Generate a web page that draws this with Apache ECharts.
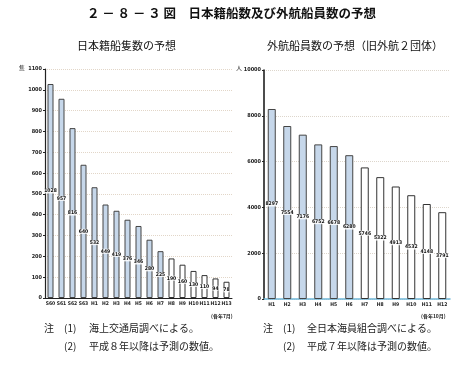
<!DOCTYPE html>
<html><head><meta charset="utf-8">
<script src="https://cdn.jsdelivr.net/npm/echarts@6/dist/echarts.min.js"></script>
<style>html,body{margin:0;padding:0;background:#fff}#c{width:463px;height:379px}</style>
</head><body><div id="c"></div>
<script>
// Left chart: 日本籍船隻数
var shipCats = ['S60','S61','S62','S63','H1','H2','H3','H4','H5','H6','H7','H8','H9','H10','H11','H12','H13'];
var shipVals = [1028, 957, 816, 640, 532, 449, 419, 376, 346, 280, 225, 190, 160, 130, 110, 94, 78];
var shipForecastFrom = 'H8';
var shipTicks = [0,100,200,300,400,500,600,700,800,900,1000,1100];
// Right chart: 外航船員数
var crewCats = ['H1','H2','H3','H4','H5','H6','H7','H8','H9','H10','H11','H12'];
var crewVals = [8297, 7554, 7176, 6752, 6678, 6280, 5746, 5322, 4913, 4532, 4148, 3791];
var crewForecastFrom = 'H7';
var crewTicks = [0,2000,4000,6000,8000,10000];

var FONT = '"Noto Sans CJK JP","Noto Sans CJK SC",sans-serif';
var FILL = '#c6d7ea';

function barData(cats, vals, from) {
  var fi = cats.indexOf(from);
  return vals.map(function (v, i) {
    var fc = i >= fi;
    return { value: v, itemStyle: { color: fc ? '#ffffff' : FILL, borderColor: fc ? '#333' : '#444', borderWidth: 1 } };
  });
}

var chart = echarts.init(document.getElementById('c'));
var axisLbl = { fontSize: 5.5, color: '#222', fontFamily: '"DejaVu Sans Condensed","DejaVu Sans"', fontWeight: 'bold', margin: 3,
  formatter: function (v) { return String(v); } };
var catLbl = { interval: 0, fontSize: 5, color: '#222', fontFamily: '"DejaVu Sans Condensed","DejaVu Sans"', fontWeight: 'bold', margin: 3 };
var noteFont = '10px ' + FONT;
chart.setOption({
  backgroundColor: '#fff',
  animation: false,
  title: [
    { text: '２ － ８ － ３ 図　日本籍船数及び外航船員数の予想', left: 'center', top: 2,
      textStyle: { fontSize: 12.5, fontWeight: 'bold', fontFamily: FONT, color: '#111' } },
    { text: '日本籍船隻数の予想', left: 72, top: 35,
      textStyle: { fontSize: 11, fontWeight: 'normal', fontFamily: FONT, color: '#111' } },
    { text: '外航船員数の予想（旧外航２団体）', left: 262, top: 35,
      textStyle: { fontSize: 11, fontWeight: 'normal', fontFamily: FONT, color: '#111' } }
  ],
  graphic: [
    { type: 'text', left: 19, top: 65, style: { text: '隻', font: '6px ' + FONT, fill: '#222' } },
    { type: 'text', left: 236, top: 65, style: { text: '人', font: '6px ' + FONT, fill: '#222' } },
    { type: 'text', left: 211, top: 314, style: { text: '(各年7月)', font: 'bold 5px ' + FONT, fill: '#222' } },
    { type: 'text', left: 421, top: 314, style: { text: '(各年10月)', font: 'bold 5px ' + FONT, fill: '#222' } },
    { type: 'text', left: 44, top: 323, style: { text: '注', font: noteFont, fill: '#222' } },
    { type: 'text', left: 64, top: 323, style: { text: '(1)', font: noteFont, fill: '#222' } },
    { type: 'text', left: 89, top: 323, style: { text: '海上交通局調べによる。', font: noteFont, fill: '#222' } },
    { type: 'text', left: 64, top: 341, style: { text: '(2)', font: noteFont, fill: '#222' } },
    { type: 'text', left: 89, top: 341, style: { text: '平成８年以降は予測の数値。', font: noteFont, fill: '#222' } },
    { type: 'text', left: 263, top: 323, style: { text: '注', font: noteFont, fill: '#222' } },
    { type: 'text', left: 283, top: 323, style: { text: '(1)', font: noteFont, fill: '#222' } },
    { type: 'text', left: 307, top: 323, style: { text: '全日本海員組合調べによる。', font: noteFont, fill: '#222' } },
    { type: 'text', left: 283, top: 341, style: { text: '(2)', font: noteFont, fill: '#222' } },
    { type: 'text', left: 307, top: 341, style: { text: '平成７年以降は予測の数値。', font: noteFont, fill: '#222' } }
  ],
  grid: [
    { left: 45, top: 69, width: 187, height: 229 },
    { left: 264, top: 70, width: 186, height: 229 }
  ],
  xAxis: [
    { type: 'category', gridIndex: 0, data: shipCats,
      axisLine: { lineStyle: { color: '#222', width: 1 } }, axisTick: { show: false }, axisLabel: catLbl },
    { type: 'category', gridIndex: 1, data: crewCats,
      axisLine: { lineStyle: { color: '#6fb6d8', width: 1.5 } }, axisTick: { show: false }, axisLabel: catLbl }
  ],
  yAxis: [
    { type: 'value', gridIndex: 0, min: shipTicks[0], max: shipTicks[shipTicks.length - 1], interval: 100,
      axisLine: { show: true, lineStyle: { color: '#222', width: 1.2 } },
      axisTick: { show: true, length: 2, lineStyle: { color: '#222' } },
      axisLabel: axisLbl,
      splitLine: { show: true, lineStyle: { color: '#e2d6c8', type: 'dotted', width: 1 } } },
    { type: 'value', gridIndex: 1, min: crewTicks[0], max: crewTicks[crewTicks.length - 1], interval: 2000,
      axisLine: { show: true, lineStyle: { color: '#111', width: 1.5 } },
      axisTick: { show: true, length: 2, lineStyle: { color: '#222' } },
      axisLabel: axisLbl,
      splitLine: { show: true, lineStyle: { color: '#ddd6cc', type: 'dotted', width: 1 } } }
  ],
  series: [
    { type: 'bar', xAxisIndex: 0, yAxisIndex: 0, barWidth: 6,
      data: barData(shipCats, shipVals, shipForecastFrom),
      label: { show: true, position: 'inside', fontSize: 5, fontWeight: 'bold', color: '#111',
        fontFamily: '"DejaVu Sans Condensed","DejaVu Sans"', backgroundColor: 'rgba(255,255,255,0.85)', padding: [0, 0] } },
    { type: 'bar', xAxisIndex: 1, yAxisIndex: 1, barWidth: 8,
      data: barData(crewCats, crewVals, crewForecastFrom),
      label: { show: true, position: 'inside', fontSize: 5, fontWeight: 'bold', color: '#111',
        fontFamily: '"DejaVu Sans Condensed","DejaVu Sans"', backgroundColor: 'rgba(255,255,255,0.85)', padding: [0, 0] } }
  ]
});
</script>
</body></html>
